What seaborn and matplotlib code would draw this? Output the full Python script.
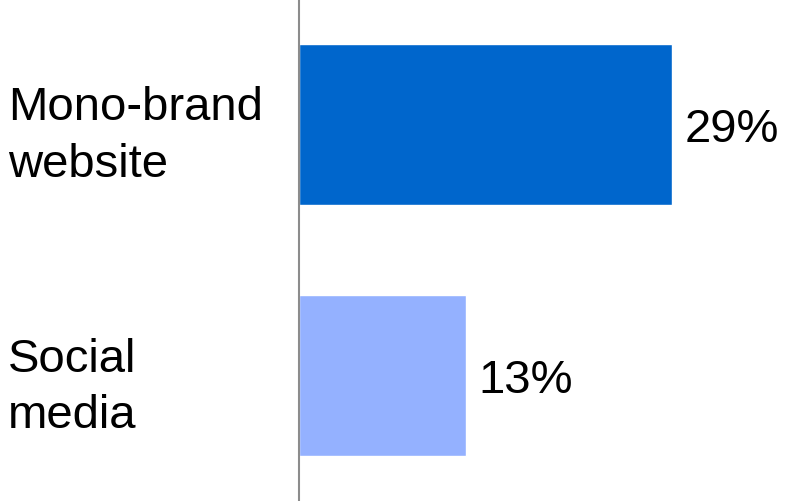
import matplotlib
matplotlib.use("Agg")
import matplotlib.pyplot as plt
import seaborn as sns
import pandas as pd

channels = ["Mono-brand\nwebsite", "Social\nmedia"]
shares = [29, 13]
value_labels = ["29%", "13%"]
bar_colors = ["#0066CC", "#94B1FF"]

sns.set_theme(style="white")
plt.rcParams["font.family"] = ["Liberation Sans", "DejaVu Sans"]

df = pd.DataFrame({"channel": channels, "share": shares})

fig = plt.figure(figsize=(7.86, 5.02), dpi=100)
ax = fig.add_axes([299 / 786, 0, 1 - 299 / 786, 1])

sns.barplot(data=df, x="share", y="channel", hue="channel",
            palette=bar_colors, orient="h", width=0.64, legend=False,
            saturation=1, ax=ax)

ax.set_xlim(0, 487 / 12.86)
ax.set_ylim(1.5, -0.5)
ax.set_xlabel("")
ax.set_ylabel("")
ax.set_xticks([])

for side in ["top", "right", "bottom"]:
    ax.spines[side].set_visible(False)
ax.spines["left"].set_color("#8c8c8c")
ax.spines["left"].set_linewidth(1.5)

ax.tick_params(axis="y", length=0, pad=209.5, labelsize=34)
for lbl in ax.get_yticklabels():
    lbl.set_horizontalalignment("left")
    lbl.set_color("black")
    lbl.set_linespacing(1.36)

for cont, txt in zip(ax.containers, value_labels):
    anns = ax.bar_label(cont, labels=[txt], padding=9, fontsize=34, color="black")
    for a in anns:
        a.xyann = (9, -3.5)

fig.savefig("out.png", dpi=100)
